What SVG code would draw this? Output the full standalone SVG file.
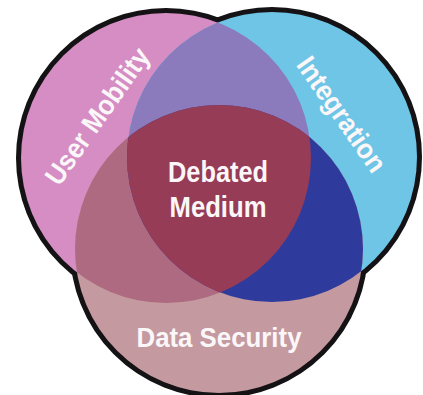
<svg xmlns="http://www.w3.org/2000/svg" width="423" height="395" viewBox="0 0 423 395">
  <style>
    .label { font-family: "Liberation Sans", Arial, sans-serif; font-weight: bold; font-size: 28px; fill: #fbf7f9; text-anchor: middle; }
    .core { font-size: 30px; }
    .rim { fill: none; stroke: #141214; stroke-width: 10; }
  </style>
  <defs>
    <circle id="disc-left" cx="166" cy="158" r="145"/>
    <circle id="disc-right" cx="272" cy="157" r="145"/>
    <circle id="disc-bottom" cx="219" cy="249" r="144"/>
    <clipPath id="clip-left"><use href="#disc-left"/></clipPath>
    <clipPath id="clip-right"><use href="#disc-right"/></clipPath>
  </defs>

  <rect width="423" height="395" fill="#ffffff"/>

  <!-- black rim: half of each stroke stays visible outside the fills -->
  <g id="outline">
    <use href="#disc-left" class="rim"/>
    <use href="#disc-right" class="rim"/>
    <use href="#disc-bottom" class="rim"/>
  </g>

  <g id="user-mobility">
    <use href="#disc-left" fill="#d58dc4"/>
    <text class="label" transform="translate(97,116) rotate(-55)" y="10" textLength="160" lengthAdjust="spacingAndGlyphs">User Mobility</text>
  </g>

  <g id="integration">
    <use href="#disc-right" fill="#6ec5e6"/>
    <text class="label" transform="translate(342,114) rotate(55)" y="10" textLength="134" lengthAdjust="spacingAndGlyphs">Integration</text>
  </g>

  <g id="data-security">
    <use href="#disc-bottom" fill="#c49aa0"/>
    <text class="label" x="219" y="347" textLength="165" lengthAdjust="spacingAndGlyphs">Data Security</text>
  </g>

  <!-- pairwise overlaps -->
  <g id="overlaps">
    <use href="#disc-right" fill="#8b7abc" clip-path="url(#clip-left)"/>
    <use href="#disc-bottom" fill="#ae6a81" clip-path="url(#clip-left)"/>
    <use href="#disc-bottom" fill="#2f3b9c" clip-path="url(#clip-right)"/>
  </g>

  <g id="debated-medium">
    <g clip-path="url(#clip-left)">
      <use href="#disc-bottom" fill="#963c57" clip-path="url(#clip-right)"/>
    </g>
    <text class="label core" x="218" y="182" textLength="100" lengthAdjust="spacingAndGlyphs">Debated</text>
    <text class="label core" x="218" y="217" textLength="97" lengthAdjust="spacingAndGlyphs">Medium</text>
  </g>
</svg>
